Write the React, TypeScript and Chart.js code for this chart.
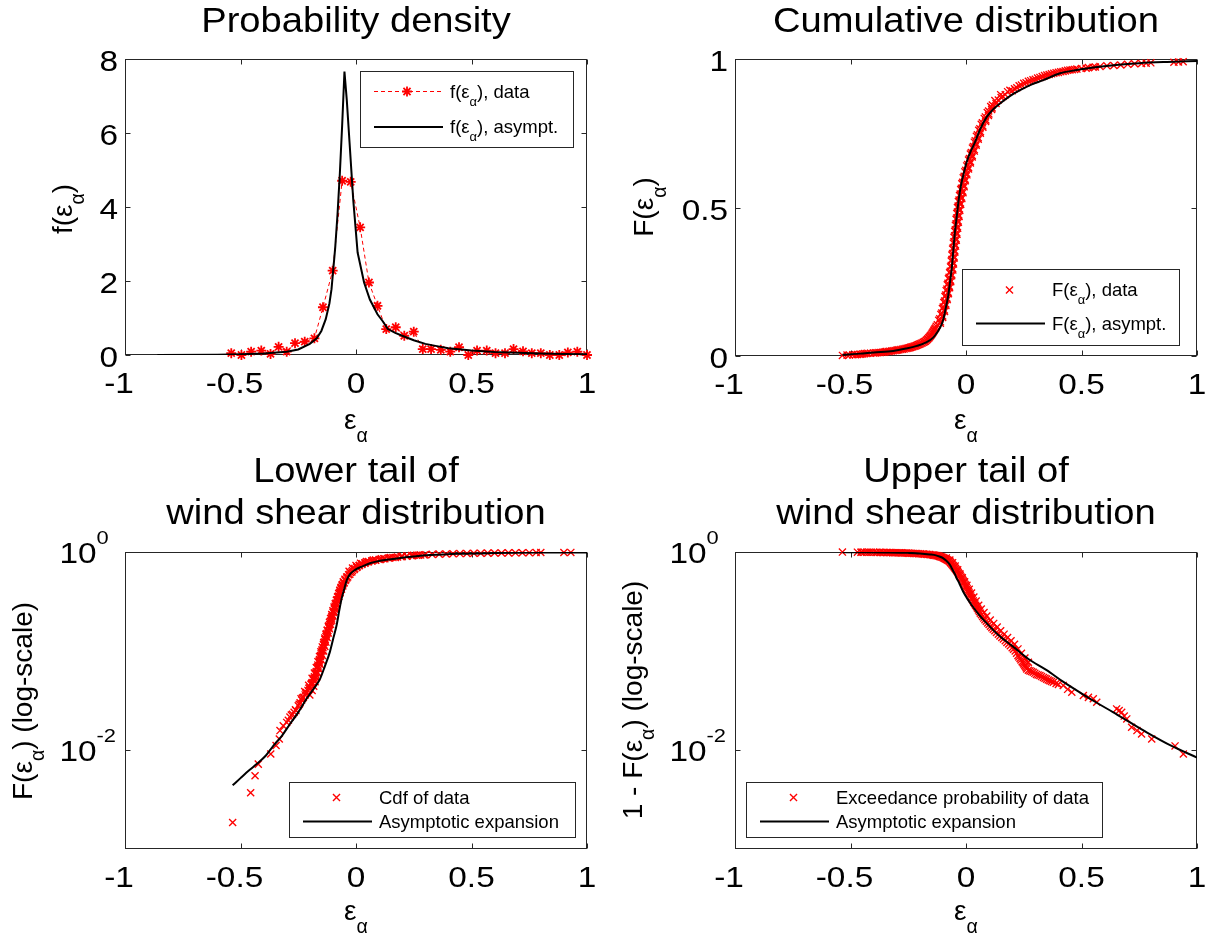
import React, { useEffect, useRef } from "react";
import { Chart, registerables } from "chart.js";

Chart.register(...registerables);

const FONT = '"Liberation Sans", Arial, Helvetica, sans-serif';
const W = 1207;
const H = 940;
const AXIS = "#262626";
const RED = "#ff0000";

// ---------------- data ----------------
const xTicks = [-1, -0.5, 0, 0.5, 1];
const xTickLabels = ["-1", "-0.5", "0", "0.5", "1"];
const pdfTicks = [0, 2, 4, 6, 8];
const pdfTickLabels = ["0", "2", "4", "6", "8"];
const cdfTicks = [0, 0.5, 1];
const cdfTickLabels = ["0", "0.5", "1"];
const logTicks = [0.01, 1];
const logTickExponents = ["-2", "0"];

// Probability density: data histogram (red dashed with stars)
const pdfDataX = [-0.54, -0.496, -0.454, -0.41, -0.37, -0.335, -0.3, -0.264, -0.222, -0.18, -0.143, -0.101, -0.06, -0.023, 0.018, 0.056, 0.093, 0.131, 0.172, 0.209, 0.25, 0.289, 0.325, 0.367, 0.408, 0.446, 0.486, 0.524, 0.566, 0.604, 0.645, 0.682, 0.723, 0.761, 0.8, 0.839, 0.88, 0.917, 0.958, 1.0];
const pdfDataY = [0.05, 0.0, 0.09, 0.12, 0.03, 0.22, 0.09, 0.32, 0.36, 0.45, 1.29, 2.28, 4.71, 4.68, 3.45, 1.96, 1.33, 0.7, 0.75, 0.52, 0.63, 0.16, 0.16, 0.14, 0.09, 0.21, 0.0, 0.12, 0.12, 0.05, 0.05, 0.16, 0.1, 0.05, 0.05, 0.0, 0.0, 0.07, 0.09, 0.0];

// Probability density: asymptotic
const pdfAsymX = [-0.86, -0.6, -0.5, -0.4, -0.3, -0.25, -0.2, -0.17, -0.15, -0.131, -0.115, -0.106, -0.1, -0.09, -0.08, -0.07, -0.06, -0.05, -0.04, -0.028, -0.012, 0.007, 0.035, 0.06, 0.093, 0.115, 0.138, 0.17, 0.2, 0.25, 0.3, 0.35, 0.4, 0.5, 0.6, 0.7, 0.8, 0.9, 1.0];
const pdfAsymY = [0.0, 0.01, 0.02, 0.04, 0.09, 0.15, 0.3, 0.45, 0.65, 0.97, 1.4, 1.78, 2.2, 2.9, 3.8, 4.9, 6.2, 7.66, 6.9, 5.75, 4.2, 2.77, 1.96, 1.5, 1.1, 0.92, 0.7, 0.6, 0.52, 0.4, 0.3, 0.24, 0.18, 0.12, 0.08, 0.06, 0.04, 0.03, 0.02];

// Cumulative distribution: data [x, F]
const cdfData: [number, number][] = [
  [-0.535, 0.002], [-0.515, 0.003], [-0.49, 0.004], [-0.47, 0.005], [-0.455, 0.006], [-0.44, 0.008], [-0.425, 0.009], [-0.4, 0.01], [-0.385, 0.011], [-0.37, 0.012], [-0.355, 0.013], [-0.345, 0.015], [-0.33, 0.016], [-0.315, 0.018], [-0.3, 0.019], [-0.29, 0.021], [-0.275, 0.023], [-0.26, 0.025], [-0.25, 0.027], [-0.24, 0.029], [-0.23, 0.031], [-0.22, 0.034], [-0.21, 0.037], [-0.2, 0.04], [-0.19, 0.044], [-0.18, 0.048], [-0.172, 0.053], [-0.165, 0.058], [-0.158, 0.064], [-0.152, 0.07], [-0.146, 0.077], [-0.14, 0.084], [-0.135, 0.091],
  [-0.505, 0.0035], [-0.478, 0.0045], [-0.46, 0.0058], [-0.447, 0.007], [-0.432, 0.0085], [-0.413, 0.0095], [-0.392, 0.0105], [-0.377, 0.0115], [-0.362, 0.0125], [-0.35, 0.014], [-0.337, 0.0155], [-0.322, 0.017], [-0.307, 0.0185], [-0.295, 0.02], [-0.282, 0.022], [-0.268, 0.024], [-0.255, 0.026], [-0.245, 0.028], [-0.235, 0.03], [-0.225, 0.0325], [-0.215, 0.0355], [-0.205, 0.0385], [-0.195, 0.042], [-0.185, 0.046], [-0.176, 0.05], [-0.168, 0.0555], [-0.161, 0.061], [-0.155, 0.067], [-0.149, 0.0735], [-0.143, 0.0805], [-0.138, 0.0875], [-0.132, 0.0945],
  [-0.129, 0.1], [-0.111, 0.11], [-0.118, 0.12], [-0.101, 0.13], [-0.109, 0.14], [-0.093, 0.15], [-0.102, 0.16], [-0.087, 0.17], [-0.096, 0.18], [-0.081, 0.19], [-0.091, 0.2], [-0.076, 0.21], [-0.086, 0.22], [-0.071, 0.23], [-0.081, 0.24], [-0.066, 0.25], [-0.076, 0.26], [-0.062, 0.27], [-0.071, 0.28], [-0.057, 0.29], [-0.067, 0.3], [-0.054, 0.31], [-0.064, 0.32], [-0.051, 0.33], [-0.061, 0.34], [-0.048, 0.35], [-0.058, 0.36], [-0.045, 0.37], [-0.055, 0.38], [-0.042, 0.39], [-0.052, 0.4], [-0.039, 0.41], [-0.049, 0.42], [-0.036, 0.43], [-0.046, 0.44], [-0.033, 0.45], [-0.043, 0.46], [-0.03, 0.47], [-0.04, 0.48], [-0.027, 0.49], [-0.037, 0.5], [-0.023, 0.51], [-0.033, 0.52], [-0.018, 0.53], [-0.028, 0.54], [-0.013, 0.55], [-0.023, 0.56], [-0.008, 0.57], [-0.018, 0.58], [-0.003, 0.59], [-0.012, 0.6], [0.004, 0.61], [-0.005, 0.62], [0.011, 0.63], [0.003, 0.64], [0.019, 0.65], [0.011, 0.66], [0.027, 0.67], [0.019, 0.68], [0.036, 0.69], [0.028, 0.7], [0.044, 0.71], [0.036, 0.72], [0.053, 0.73], [0.045, 0.74], [0.062, 0.75], [0.055, 0.76], [0.073, 0.77], [0.066, 0.78], [0.085, 0.79], [0.079, 0.8], [0.097, 0.81], [0.092, 0.82], [0.111, 0.83], [0.107, 0.84], [0.13, 0.85], [0.125, 0.86], [0.152, 0.87], [0.15, 0.88], [0.18, 0.89], [0.19, 0.895], [0.21, 0.9],
  [-0.124, 0.105], [-0.1105, 0.115], [-0.1135, 0.125], [-0.101, 0.135], [-0.105, 0.145], [-0.0935, 0.155], [-0.0985, 0.165], [-0.0875, 0.175], [-0.0925, 0.185], [-0.082, 0.195], [-0.088, 0.205], [-0.077, 0.215], [-0.083, 0.225], [-0.072, 0.235], [-0.078, 0.245], [-0.067, 0.255], [-0.073, 0.265], [-0.062, 0.275], [-0.068, 0.285], [-0.058, 0.295], [-0.064, 0.305], [-0.055, 0.315], [-0.061, 0.325], [-0.052, 0.335], [-0.058, 0.345], [-0.049, 0.355], [-0.055, 0.365], [-0.046, 0.375], [-0.052, 0.385], [-0.043, 0.395], [-0.049, 0.405], [-0.04, 0.415], [-0.046, 0.425], [-0.037, 0.435], [-0.043, 0.445], [-0.034, 0.455], [-0.04, 0.465], [-0.031, 0.475], [-0.037, 0.485], [-0.028, 0.495], [-0.034, 0.505], [-0.024, 0.515], [-0.03, 0.525], [-0.019, 0.535], [-0.025, 0.545], [-0.014, 0.555], [-0.02, 0.565], [-0.009, 0.575], [-0.0145, 0.585], [-0.0035, 0.595], [-0.008, 0.605], [0.003, 0.615], [-0.001, 0.625], [0.011, 0.635], [0.007, 0.645], [0.019, 0.655], [0.015, 0.665], [0.027, 0.675], [0.023, 0.685], [0.036, 0.695], [0.032, 0.705], [0.044, 0.715], [0.04, 0.725], [0.053, 0.735], [0.0495, 0.745], [0.0625, 0.755], [0.06, 0.765], [0.073, 0.775], [0.071, 0.785], [0.086, 0.795], [0.084, 0.805], [0.099, 0.815], [0.098, 0.825], [0.113, 0.835], [0.114, 0.845],
  [0.14, 0.862], [0.16, 0.874], [0.17, 0.88], [0.2, 0.893], [0.22, 0.903], [0.24, 0.912], [0.26, 0.92], [0.28, 0.927], [0.3, 0.932], [0.32, 0.938], [0.34, 0.944], [0.36, 0.948], [0.38, 0.952], [0.4, 0.955], [0.42, 0.958], [0.44, 0.962], [0.46, 0.964], [0.48, 0.966], [0.52, 0.969], [0.55, 0.972],
  [0.23, 0.91], [0.25, 0.918], [0.27, 0.925], [0.29, 0.93], [0.31, 0.936], [0.33, 0.941], [0.35, 0.946], [0.37, 0.95], [0.39, 0.954], [0.41, 0.957], [0.43, 0.96], [0.45, 0.963], [0.47, 0.965], [0.5, 0.968], [0.53, 0.971], [0.56, 0.973], [0.58, 0.975], [0.61, 0.977], [0.64, 0.978], [0.67, 0.98], [0.7, 0.982], [0.73, 0.984], [0.76, 0.985], [0.78, 0.986], [0.8, 0.987], [0.9, 0.989], [0.92, 0.99], [0.94, 0.991],
];

// Cumulative distribution: asymptotic [x, F]
const cdfAsym: [number, number][] = [
  [-0.535, 0.004], [-0.459, 0.008], [-0.4, 0.012], [-0.315, 0.017], [-0.26, 0.025], [-0.213, 0.034], [-0.175, 0.045], [-0.142, 0.062], [-0.12, 0.085], [-0.108, 0.102], [-0.098, 0.124], [-0.088, 0.16], [-0.077, 0.203], [-0.069, 0.25], [-0.062, 0.293], [-0.055, 0.355], [-0.048, 0.417], [-0.04, 0.47], [-0.033, 0.518], [-0.026, 0.555], [-0.019, 0.585], [-0.008, 0.62], [0.003, 0.653], [0.02, 0.688], [0.039, 0.72], [0.062, 0.765], [0.09, 0.805], [0.117, 0.83], [0.147, 0.85], [0.19, 0.875], [0.234, 0.895], [0.28, 0.913], [0.335, 0.929], [0.407, 0.952], [0.48, 0.963], [0.56, 0.972], [0.65, 0.98], [0.75, 0.986], [0.87, 0.99], [1.0, 0.993],
];

// Lower tail: data [x, F] (log scale)
const lowerData: [number, number][] = [
  [-0.534, 0.00185], [-0.456, 0.0037], [-0.437, 0.0055], [-0.423, 0.0072], [-0.369, 0.0091], [-0.346, 0.0111], [-0.332, 0.0129], [-0.329, 0.0157], [-0.315, 0.0176], [-0.3, 0.019], [-0.293, 0.02], [-0.286, 0.0215], [-0.275, 0.023], [-0.268, 0.024], [-0.26, 0.025], [-0.25, 0.028], [-0.242, 0.03], [-0.235, 0.032], [-0.228, 0.034], [-0.22, 0.036], [-0.214, 0.038], [-0.208, 0.04], [-0.2, 0.043], [-0.195, 0.046], [-0.19, 0.048], [-0.185, 0.051], [-0.18, 0.055], [-0.176, 0.058], [-0.172, 0.062], [-0.168, 0.067], [-0.165, 0.072], [-0.161, 0.077], [-0.158, 0.082], [-0.154, 0.088], [-0.151, 0.094], [-0.147, 0.1], [-0.143, 0.108], [-0.14, 0.115], [-0.136, 0.123], [-0.133, 0.13], [-0.13, 0.14], [-0.126, 0.15], [-0.122, 0.16], [-0.118, 0.172], [-0.114, 0.185], [-0.11, 0.2], [-0.106, 0.215], [-0.102, 0.23], [-0.098, 0.248], [-0.094, 0.265], [-0.09, 0.285], [-0.086, 0.305], [-0.082, 0.33], [-0.078, 0.355], [-0.074, 0.38], [-0.07, 0.405], [-0.065, 0.435], [-0.06, 0.465], [-0.055, 0.5], [-0.048, 0.53], [-0.04, 0.56], [-0.032, 0.59], [-0.024, 0.62], [-0.015, 0.65], [-0.005, 0.68], [0.005, 0.71], [0.015, 0.735], [0.027, 0.76], [0.04, 0.78], [0.055, 0.8], [0.07, 0.815], [0.085, 0.83], [0.1, 0.84], [0.12, 0.855], [0.14, 0.87], [0.16, 0.88], [0.18, 0.89], [0.2, 0.9], [0.22, 0.91], [0.24, 0.92], [0.262, 0.928], [0.28, 0.935], [0.3, 0.94], [0.33, 0.946], [0.36, 0.952], [0.39, 0.956], [0.42, 0.96], [0.45, 0.964], [0.48, 0.967], [0.51, 0.97], [0.54, 0.972], [0.57, 0.974], [0.6, 0.976], [0.63, 0.978], [0.66, 0.98], [0.69, 0.981], [0.72, 0.983], [0.75, 0.985], [0.78, 0.986], [0.8, 0.987], [0.9, 0.989], [0.93, 0.99],
  [-0.238, 0.033], [-0.222, 0.039], [-0.205, 0.045], [-0.19, 0.053], [-0.18, 0.06], [-0.172, 0.068], [-0.165, 0.078], [-0.158, 0.088], [-0.152, 0.098], [-0.146, 0.11], [-0.14, 0.122], [-0.135, 0.135], [-0.13, 0.148], [-0.125, 0.162], [-0.12, 0.178], [-0.115, 0.195], [-0.11, 0.213], [-0.105, 0.233], [-0.1, 0.255], [-0.095, 0.278], [-0.09, 0.3], [-0.085, 0.325], [-0.08, 0.35], [-0.075, 0.38], [-0.07, 0.41], [-0.064, 0.44], [-0.058, 0.47],
  [-0.03, 0.64], [-0.015, 0.69], [0.0, 0.73], [0.02, 0.77], [0.045, 0.8], [0.075, 0.83], [0.11, 0.855], [0.15, 0.88], [0.2, 0.905], [0.25, 0.925],
  [-0.28, 0.0225], [-0.262, 0.0255], [-0.246, 0.029], [-0.232, 0.0335], [-0.218, 0.0375], [-0.204, 0.042], [-0.192, 0.047], [-0.182, 0.053], [-0.174, 0.06], [-0.166, 0.0695], [-0.159, 0.0795], [-0.153, 0.09], [-0.147, 0.103], [-0.141, 0.117], [-0.135, 0.131], [-0.129, 0.146], [-0.123, 0.162], [-0.117, 0.18], [-0.111, 0.2], [-0.105, 0.222], [-0.099, 0.245], [-0.093, 0.27], [-0.087, 0.297], [-0.081, 0.325], [-0.075, 0.355], [-0.069, 0.388], [-0.063, 0.42], [-0.057, 0.455], [-0.051, 0.49], [-0.044, 0.525], [-0.036, 0.56], [-0.027, 0.595], [-0.018, 0.63], [-0.008, 0.665], [0.003, 0.697], [0.013, 0.725], [0.025, 0.75], [0.038, 0.772], [0.052, 0.792], [0.068, 0.81], [0.085, 0.826], [0.105, 0.842], [0.125, 0.856], [0.145, 0.868], [0.17, 0.882], [0.195, 0.895], [0.22, 0.906], [0.245, 0.916], [0.27, 0.925], [0.295, 0.933],
  [-0.2, 0.036], [-0.19, 0.04], [-0.183, 0.044], [-0.177, 0.049], [-0.171, 0.054], [-0.165, 0.06], [-0.16, 0.066], [-0.155, 0.073], [-0.15, 0.081], [-0.145, 0.09], [-0.14, 0.1], [-0.135, 0.111], [-0.13, 0.123], [-0.125, 0.137], [-0.12, 0.152], [-0.115, 0.168], [-0.11, 0.186], [-0.105, 0.205], [-0.1, 0.226], [-0.095, 0.25], [-0.09, 0.275], [-0.085, 0.3], [-0.08, 0.328], [-0.075, 0.358], [-0.07, 0.39], [-0.065, 0.425], [-0.06, 0.455], [-0.054, 0.485], [-0.047, 0.515], [-0.04, 0.545],
];

// Lower tail: asymptotic [x, F]
const lowerAsym: [number, number][] = [
  [-0.534, 0.0044], [-0.5, 0.0052], [-0.46, 0.0063], [-0.43, 0.0072], [-0.39, 0.0088], [-0.358, 0.011], [-0.32, 0.014], [-0.286, 0.0183], [-0.25, 0.024], [-0.214, 0.0329], [-0.185, 0.041], [-0.156, 0.052], [-0.135, 0.07], [-0.113, 0.098], [-0.098, 0.135], [-0.084, 0.182], [-0.072, 0.26], [-0.062, 0.34], [-0.05, 0.43], [-0.04, 0.52], [-0.025, 0.6], [-0.004, 0.66], [0.03, 0.72], [0.06, 0.77], [0.11, 0.82], [0.176, 0.86], [0.25, 0.9], [0.32, 0.93], [0.45, 0.96], [0.6, 0.975], [0.8, 0.986], [1.0, 0.99],
];

// Upper tail: data [x, 1 - F] (log scale)
const upperData: [number, number][] = [
  [-0.535, 0.998], [-0.47, 0.996], [-0.455, 0.995], [-0.44, 0.994], [-0.42, 0.993], [-0.4, 0.992], [-0.385, 0.991], [-0.37, 0.99], [-0.355, 0.989], [-0.34, 0.988], [-0.325, 0.986], [-0.31, 0.984], [-0.295, 0.982], [-0.28, 0.98], [-0.265, 0.977], [-0.25, 0.974], [-0.235, 0.97], [-0.22, 0.966], [-0.205, 0.962], [-0.19, 0.957], [-0.178, 0.951], [-0.165, 0.945], [-0.152, 0.938], [-0.14, 0.93], [-0.13, 0.92], [-0.12, 0.91], [-0.11, 0.895], [-0.1, 0.88], [-0.092, 0.86], [-0.084, 0.84], [-0.077, 0.82], [-0.07, 0.8], [-0.064, 0.77], [-0.058, 0.74], [-0.052, 0.71], [-0.046, 0.68], [-0.04, 0.65], [-0.034, 0.62], [-0.028, 0.59], [-0.022, 0.56], [-0.016, 0.53], [-0.01, 0.5], [-0.004, 0.47], [0.002, 0.44], [0.008, 0.41], [0.014, 0.385], [0.02, 0.36], [0.027, 0.335], [0.034, 0.31], [0.042, 0.29], [0.05, 0.27], [0.058, 0.25], [0.067, 0.232], [0.077, 0.215], [0.088, 0.2], [0.1, 0.185], [0.112, 0.172], [0.125, 0.16], [0.14, 0.148], [0.155, 0.137], [0.17, 0.127], [0.185, 0.118], [0.2, 0.108], [0.213, 0.1], [0.225, 0.09], [0.234, 0.084], [0.243, 0.078], [0.25, 0.074], [0.257, 0.07], [0.263, 0.066], [0.277, 0.063], [0.291, 0.061], [0.305, 0.058], [0.32, 0.0566], [0.335, 0.054], [0.349, 0.052], [0.363, 0.05], [0.378, 0.0484], [0.4, 0.046], [0.421, 0.0449], [0.44, 0.041], [0.458, 0.0384], [0.508, 0.0355], [0.53, 0.034], [0.551, 0.0329], [0.566, 0.0304], [0.652, 0.026], [0.663, 0.025], [0.674, 0.024], [0.685, 0.022], [0.696, 0.0206], [0.717, 0.017], [0.74, 0.0157], [0.76, 0.0145], [0.804, 0.0129], [0.905, 0.011], [0.941, 0.0091],
  [-0.085, 0.87], [-0.07, 0.83], [-0.058, 0.78], [-0.047, 0.72], [-0.036, 0.66], [-0.026, 0.6], [-0.016, 0.55], [-0.006, 0.5], [0.004, 0.46], [0.014, 0.42], [0.024, 0.385], [0.034, 0.35], [0.044, 0.32], [0.055, 0.29], [0.066, 0.265], [0.078, 0.245], [0.09, 0.225], [0.105, 0.205], [0.12, 0.19], [0.135, 0.175], [0.15, 0.16], [0.165, 0.148], [0.18, 0.137], [0.195, 0.127], [0.21, 0.117], [0.225, 0.105], [0.24, 0.095], [0.255, 0.085], [0.27, 0.077],
  [-0.096, 0.87], [-0.088, 0.85], [-0.08, 0.83], [-0.073, 0.81], [-0.067, 0.785], [-0.061, 0.755], [-0.055, 0.725], [-0.049, 0.695], [-0.043, 0.665], [-0.037, 0.635], [-0.031, 0.605], [-0.025, 0.575], [-0.019, 0.545], [-0.013, 0.515], [-0.007, 0.485], [-0.001, 0.455], [0.005, 0.425], [0.011, 0.397], [0.017, 0.372], [0.024, 0.347], [0.031, 0.322], [0.038, 0.3], [0.046, 0.28], [0.054, 0.26], [0.062, 0.241], [0.072, 0.223], [0.082, 0.207], [0.094, 0.192], [0.106, 0.178], [0.118, 0.166], [0.132, 0.154], [0.147, 0.142], [0.162, 0.132], [0.177, 0.122], [0.192, 0.113], [0.206, 0.104], [0.219, 0.095], [0.229, 0.087], [0.238, 0.081], [0.247, 0.076], [0.254, 0.072], [0.26, 0.068], [0.27, 0.064], [0.284, 0.062], [0.298, 0.0595], [0.312, 0.0573], [0.327, 0.0553], [0.342, 0.053], [0.356, 0.051], [0.37, 0.0492], [0.39, 0.047],
  [-0.45, 0.997], [-0.43, 0.995], [-0.41, 0.994], [-0.39, 0.993], [-0.375, 0.992], [-0.36, 0.99], [-0.345, 0.989], [-0.33, 0.987], [-0.318, 0.985], [-0.303, 0.983], [-0.288, 0.981], [-0.273, 0.979], [-0.258, 0.976], [-0.243, 0.972], [-0.228, 0.968], [-0.213, 0.964], [-0.198, 0.96], [-0.184, 0.954], [-0.171, 0.948], [-0.158, 0.942], [-0.146, 0.934], [-0.135, 0.925], [-0.125, 0.915], [-0.115, 0.903], [-0.105, 0.888],
];

// Upper tail: asymptotic [x, 1 - F]
const upperAsym: [number, number][] = [
  [-0.535, 0.996], [-0.45, 0.995], [-0.35, 0.99], [-0.25, 0.98], [-0.2, 0.968], [-0.156, 0.945], [-0.13, 0.925], [-0.115, 0.9], [-0.098, 0.863], [-0.085, 0.815], [-0.077, 0.78], [-0.069, 0.738], [-0.062, 0.69], [-0.055, 0.64], [-0.047, 0.59], [-0.04, 0.54], [-0.032, 0.5], [-0.025, 0.46], [-0.012, 0.396], [0.005, 0.34], [0.025, 0.29], [0.055, 0.235], [0.09, 0.19], [0.14, 0.145], [0.205, 0.11], [0.27, 0.083], [0.349, 0.064], [0.42, 0.049], [0.494, 0.038], [0.566, 0.03], [0.638, 0.024], [0.71, 0.019], [0.782, 0.0151], [0.89, 0.011], [1.0, 0.0084],
];

// ---------------- text helpers ----------------
type Seg = { t: string; k?: number; dy?: number };
const sub = (t: string): Seg => ({ t, k: 0.7, dy: 0.45 });
const epsA = (pre: string, post: string): Seg[] => [{ t: pre + "\u03b5" }, sub("\u03b1"), { t: post }];

function drawText(
  ctx: CanvasRenderingContext2D,
  segs: Seg[],
  x: number,
  y: number,
  size: number,
  opts: { align?: "left" | "center" | "right"; sx?: number; rot?: boolean; color?: string } = {}
) {
  const sx = opts.sx ?? 1;
  ctx.save();
  ctx.translate(x, y);
  ctx.scale(sx, 1);
  if (opts.rot) ctx.rotate(-Math.PI / 2);
  ctx.fillStyle = opts.color ?? "#000";
  ctx.textBaseline = "alphabetic";
  ctx.textAlign = "left";
  let w = 0;
  const ws = segs.map((s) => {
    ctx.font = `${size * (s.k ?? 1)}px ${FONT}`;
    const m = ctx.measureText(s.t).width;
    w += m;
    return m;
  });
  let cx = opts.align === "center" ? -w / 2 : opts.align === "right" ? -w : 0;
  segs.forEach((s, i) => {
    ctx.font = `${size * (s.k ?? 1)}px ${FONT}`;
    ctx.fillText(s.t, cx, (s.dy ?? 0) * size);
    cx += ws[i];
  });
  ctx.restore();
}

// ---------------- panel layout ----------------
type Box = { l: number; t: number; r: number; b: number };
type Entry = { kind: "dashStar" | "cross" | "line"; segs: Seg[] };
interface Panel {
  area: Box;
  log: boolean;
  yMin: number;
  yMax: number;
  yTicks: number[];
  yTickText: string[];
  title: string[];
  titleY: number[];
  xLabelY: number;
  yLabel: Seg[];
  yLabelX: number;
  yLabelY: number;
  legend: Box;
  rows: number[];
  entries: Entry[];
  datasets: any[];
}

const TICK_FONT = 29;
const TICK_SX = 1.15;
const TITLE_FONT = 35;
const TITLE_SX = 1.09;
const LABEL_FONT = 28;
const LEG_FONT = 18.5;
const TICK_LEN = 5;
const CROSS_W = 1.35;

const toPts = (arr: [number, number][]) => arr.map(([x, y]) => ({ x, y }));

const blackLine = (data: any[], smooth: boolean) => ({
  data,
  showLine: true,
  borderColor: "#000",
  backgroundColor: "#000",
  borderWidth: 2,
  pointRadius: 0,
  fill: false,
  tension: 0,
  cubicInterpolationMode: smooth ? "monotone" : "default",
  order: 0,
});

const redCross = (data: any[]) => ({
  data,
  showLine: false,
  pointStyle: "crossRot",
  pointRadius: 5,
  pointBorderWidth: CROSS_W,
  pointBorderColor: RED,
  pointBackgroundColor: RED,
  borderColor: RED,
  order: 1,
  clip: false,
});

const PANELS: Panel[] = [
  {
    area: { l: 125, t: 59, r: 587, b: 355 },
    log: false,
    yMin: 0,
    yMax: 8,
    yTicks: pdfTicks,
    yTickText: pdfTickLabels,
    title: ["Probability density"],
    titleY: [32],
    xLabelY: 429,
    yLabel: epsA("f(", ")"),
    yLabelX: 71.5,
    yLabelY: 209,
    legend: { l: 360, t: 71, r: 573, b: 147 },
    rows: [91.5, 127],
    entries: [
      { kind: "dashStar", segs: epsA("f(", "), data") },
      { kind: "line", segs: epsA("f(", "), asympt.") },
    ],
    datasets: [
      blackLine(pdfAsymX.map((x, i) => ({ x, y: pdfAsymY[i] })), false),
      {
        data: pdfDataX.map((x, i) => ({ x, y: pdfDataY[i] })),
        showLine: true,
        borderColor: RED,
        borderWidth: 1,
        borderDash: [4, 3],
        pointStyle: "star",
        pointRadius: 5,
        pointBorderWidth: 1.8,
        pointBorderColor: RED,
        pointBackgroundColor: RED,
        fill: false,
        tension: 0,
        order: 1,
        clip: false,
      },
    ],
  },
  {
    area: { l: 735, t: 59, r: 1197, b: 356 },
    log: false,
    yMin: 0,
    yMax: 1,
    yTicks: cdfTicks,
    yTickText: cdfTickLabels,
    title: ["Cumulative distribution"],
    titleY: [32],
    xLabelY: 429,
    yLabel: epsA("F(", ")"),
    yLabelX: 653,
    yLabelY: 207,
    legend: { l: 962, t: 269, r: 1179, b: 345 },
    rows: [290, 323.5],
    entries: [
      { kind: "cross", segs: epsA("F(", "), data") },
      { kind: "line", segs: epsA("F(", "), asympt.") },
    ],
    datasets: [blackLine(toPts(cdfAsym), true), redCross(toPts(cdfData))],
  },
  {
    area: { l: 125, t: 552, r: 587, b: 849 },
    log: true,
    yMin: 0.001,
    yMax: 1,
    yTicks: logTicks,
    yTickText: logTickExponents,
    title: ["Lower tail of", "wind shear distribution"],
    titleY: [482, 524],
    xLabelY: 920,
    yLabel: epsA("F(", ") (log-scale)"),
    yLabelX: 31.5,
    yLabelY: 701,
    legend: { l: 289, t: 782, r: 575, b: 837 },
    rows: [797.5, 821.5],
    entries: [
      { kind: "cross", segs: [{ t: "Cdf of data" }] },
      { kind: "line", segs: [{ t: "Asymptotic expansion" }] },
    ],
    datasets: [blackLine(toPts(lowerAsym), true), redCross(toPts(lowerData))],
  },
  {
    area: { l: 735, t: 552, r: 1197, b: 849 },
    log: true,
    yMin: 0.001,
    yMax: 1,
    yTicks: logTicks,
    yTickText: logTickExponents,
    title: ["Upper tail of", "wind shear distribution"],
    titleY: [482, 524],
    xLabelY: 920,
    yLabel: epsA("1 - F(", ") (log-scale)"),
    yLabelX: 641.5,
    yLabelY: 700,
    legend: { l: 746, t: 782, r: 1102, b: 837 },
    rows: [797.5, 821.5],
    entries: [
      { kind: "cross", segs: [{ t: "Exceedance probability of data" }] },
      { kind: "line", segs: [{ t: "Asymptotic expansion" }] },
    ],
    datasets: [blackLine(toPts(upperAsym), true), redCross(toPts(upperData))],
  },
];

function drawStar(ctx: CanvasRenderingContext2D, x: number, y: number, r: number) {
  ctx.beginPath();
  for (let i = 0; i < 4; i++) {
    const a = (i * Math.PI) / 4;
    ctx.moveTo(x - r * Math.cos(a), y - r * Math.sin(a));
    ctx.lineTo(x + r * Math.cos(a), y + r * Math.sin(a));
  }
  ctx.stroke();
}

function drawCross(ctx: CanvasRenderingContext2D, x: number, y: number, r: number) {
  const d = r * Math.SQRT1_2;
  ctx.strokeStyle = RED;
  ctx.lineWidth = CROSS_W;
  ctx.beginPath();
  ctx.moveTo(x - d, y - d);
  ctx.lineTo(x + d, y + d);
  ctx.moveTo(x - d, y + d);
  ctx.lineTo(x + d, y - d);
  ctx.stroke();
}

function makeDecor(p: Panel) {
  return {
    id: "decor",
    beforeDatasetsDraw(chart: any) {
      const ctx: CanvasRenderingContext2D = chart.ctx;
      const a = chart.chartArea;
      const xs = chart.scales.x;
      const ys = chart.scales.y;
      const L = Math.round(a.left) + 0.5;
      const R = Math.round(a.right) - 0.5;
      const T = Math.round(a.top) + 0.5;
      const B = Math.round(a.bottom) - 0.5;
      ctx.save();
      ctx.strokeStyle = AXIS;
      ctx.lineWidth = 1;
      ctx.strokeRect(L, T, R - L, B - T);
      ctx.beginPath();
      for (const v of xTicks) {
        const px = Math.round(xs.getPixelForValue(v)) + 0.5;
        ctx.moveTo(px, B);
        ctx.lineTo(px, B - TICK_LEN);
        ctx.moveTo(px, T);
        ctx.lineTo(px, T + TICK_LEN);
      }
      for (const v of p.yTicks) {
        const py = Math.round(ys.getPixelForValue(v)) + 0.5;
        ctx.moveTo(L, py);
        ctx.lineTo(L + TICK_LEN, py);
        ctx.moveTo(R, py);
        ctx.lineTo(R - TICK_LEN, py);
      }
      ctx.stroke();
      ctx.restore();
    },
    afterDraw(chart: any) {
      const ctx: CanvasRenderingContext2D = chart.ctx;
      const a = chart.chartArea;
      const xs = chart.scales.x;
      const ys = chart.scales.y;
      const cx = (a.left + a.right) / 2;

      // x tick labels
      xTicks.forEach((v, i) => {
        const lab = xTickLabels[i];
        const px = xs.getPixelForValue(v) + (lab.startsWith("-") ? -6 : 0);
        drawText(ctx, [{ t: lab }], px, a.bottom + 38, TICK_FONT, { align: "center", sx: TICK_SX });
      });

      // y tick labels
      p.yTicks.forEach((v, i) => {
        const py = ys.getPixelForValue(v);
        if (p.log) {
          const base = py + 10.6;
          drawText(ctx, [{ t: "10" }], a.left - 28.5, base, TICK_FONT, { align: "right", sx: TICK_SX });
          drawText(ctx, [{ t: p.yTickText[i] }], a.left - 28.5, base - 19, 19, { align: "left", sx: TICK_SX });
        } else {
          drawText(ctx, [{ t: p.yTickText[i] }], a.left - 7, py + 12.3, TICK_FONT, { align: "right", sx: TICK_SX });
        }
      });

      // title
      p.title.forEach((line, i) => {
        drawText(ctx, [{ t: line }], cx, p.titleY[i], TITLE_FONT, { align: "center", sx: TITLE_SX });
      });

      // axis labels
      drawText(ctx, epsA("", ""), cx, p.xLabelY, LABEL_FONT, { align: "center" });
      drawText(ctx, p.yLabel, p.yLabelX, p.yLabelY, LABEL_FONT, { align: "center", rot: true });

      // legend
      const lg = p.legend;
      ctx.save();
      ctx.fillStyle = "#fff";
      ctx.fillRect(lg.l, lg.t, lg.r - lg.l, lg.b - lg.t);
      ctx.strokeStyle = AXIS;
      ctx.lineWidth = 1;
      ctx.strokeRect(Math.round(lg.l) + 0.5, Math.round(lg.t) + 0.5, Math.round(lg.r - lg.l), Math.round(lg.b - lg.t));
      p.entries.forEach((e, i) => {
        const y = p.rows[i];
        if (e.kind === "line") {
          ctx.strokeStyle = "#000";
          ctx.lineWidth = 2;
          ctx.setLineDash([]);
          ctx.beginPath();
          ctx.moveTo(lg.l + 14, y);
          ctx.lineTo(lg.l + 83, y);
          ctx.stroke();
        } else if (e.kind === "dashStar") {
          ctx.strokeStyle = RED;
          ctx.lineWidth = 1;
          ctx.setLineDash([4, 3]);
          ctx.beginPath();
          ctx.moveTo(lg.l + 14, y);
          ctx.lineTo(lg.l + 83, y);
          ctx.stroke();
          ctx.setLineDash([]);
          ctx.lineWidth = 1.8;
          drawStar(ctx, lg.l + 47, y, 5);
        } else {
          ctx.setLineDash([]);
          drawCross(ctx, lg.l + 47.5, y, 5);
        }
        drawText(ctx, e.segs, lg.l + 90, y + 6, LEG_FONT, { align: "left" });
      });
      ctx.restore();
    },
  };
}

function buildConfig(p: Panel): any {
  return {
    type: "scatter",
    data: { datasets: p.datasets },
    options: {
      responsive: false,
      animation: false,
      devicePixelRatio: 1,
      events: [],
      layout: {
        padding: { left: p.area.l, top: p.area.t, right: W - p.area.r, bottom: H - p.area.b },
      },
      plugins: {
        legend: { display: false },
        title: { display: false },
        tooltip: { enabled: false },
      },
      scales: {
        x: { type: "linear", min: -1, max: 1, display: false },
        y: { type: p.log ? "logarithmic" : "linear", min: p.yMin, max: p.yMax, display: false },
      },
    },
    plugins: [makeDecor(p)],
  };
}

export default function App() {
  const r0 = useRef<HTMLCanvasElement>(null);
  const r1 = useRef<HTMLCanvasElement>(null);
  const r2 = useRef<HTMLCanvasElement>(null);
  const r3 = useRef<HTMLCanvasElement>(null);
  const refs = [r0, r1, r2, r3];

  useEffect(() => {
    Chart.defaults.font.family = FONT;
    const charts = PANELS.map((p, i) => new Chart(refs[i].current as HTMLCanvasElement, buildConfig(p)));
    return () => charts.forEach((c) => c.destroy());
  }, []);

  return (
    <div style={{ position: "absolute", left: 0, top: 0, width: W, height: H, background: "#fff", overflow: "hidden" }}>
      {refs.map((r, i) => (
        <canvas key={i} ref={r} width={W} height={H} style={{ position: "absolute", left: 0, top: 0 }} />
      ))}
    </div>
  );
}
